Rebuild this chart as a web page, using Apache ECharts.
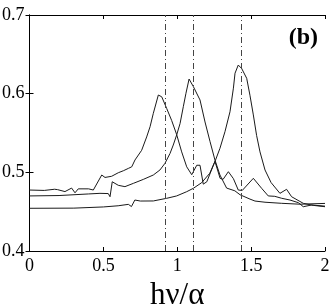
<!DOCTYPE html>
<html>
<head>
<meta charset="utf-8">
<script src="https://cdn.jsdelivr.net/npm/echarts@6/dist/echarts.min.js"></script>
<style>
html,body{margin:0;padding:0;background:#fff;}
#c{width:335px;height:307px;}
</style>
</head>
<body>
<div id="c"></div>
<script>
// Curve A (peak near 0.87)
const curveAx = [0, 0.10, 0.17, 0.19, 0.24, 0.285, 0.308, 0.33, 0.40, 0.432, 0.489, 0.511, 0.556, 0.601, 0.635, 0.669, 0.692, 0.714, 0.759, 0.793, 0.816, 0.838, 0.872, 0.895, 0.929, 0.962, 0.996, 1.03, 1.064, 1.098, 1.132, 1.154, 1.176, 1.20, 1.255, 1.29, 1.31, 1.346, 1.38, 1.413, 1.44, 1.515, 1.571, 1.616, 1.66, 1.707, 1.763, 1.82, 1.853, 1.91, 2.0];
const curveAy = [0.4775, 0.477, 0.4785, 0.478, 0.4755, 0.480, 0.474, 0.479, 0.479, 0.4775, 0.4966, 0.4935, 0.495, 0.4995, 0.502, 0.505, 0.507, 0.5157, 0.528, 0.545, 0.558, 0.575, 0.5983, 0.596, 0.581, 0.566, 0.548, 0.526, 0.507, 0.497, 0.509, 0.509, 0.485, 0.488, 0.514, 0.4924, 0.491, 0.5008, 0.492, 0.4775, 0.477, 0.4924, 0.4797, 0.470, 0.4695, 0.467, 0.4648, 0.4614, 0.4563, 0.4585, 0.457];
// Curve B (peak near 1.08)
const curveBx = [0, 0.2, 0.398, 0.477, 0.533, 0.545, 0.56, 0.601, 0.646, 0.703, 0.77, 0.838, 0.883, 0.917, 0.951, 0.973, 0.996, 1.019, 1.041, 1.059, 1.08, 1.109, 1.154, 1.188, 1.222, 1.255, 1.289, 1.334, 1.39, 1.425, 1.492, 1.526, 1.594, 1.707, 1.83, 2.0];
const curveBy = [0.470, 0.4705, 0.4725, 0.4733, 0.473, 0.469, 0.488, 0.4835, 0.4818, 0.486, 0.491, 0.4966, 0.503, 0.5115, 0.524, 0.5347, 0.5475, 0.562, 0.5834, 0.6005, 0.6186, 0.609, 0.592, 0.564, 0.539, 0.5157, 0.4966, 0.480, 0.4765, 0.4715, 0.466, 0.4635, 0.462, 0.4606, 0.4595, 0.4605];
// Curve C (peak near 1.41)
const curveCx = [0, 0.3, 0.5, 0.6, 0.669, 0.69, 0.713, 0.75, 0.838, 0.929, 0.996, 1.064, 1.109, 1.165, 1.22, 1.255, 1.289, 1.323, 1.357, 1.38, 1.391, 1.413, 1.436, 1.47, 1.492, 1.515, 1.537, 1.56, 1.594, 1.635, 1.695, 1.74, 1.774, 1.853, 1.92, 2.0];
const curveCy = [0.4543, 0.4545, 0.456, 0.4575, 0.4593, 0.4565, 0.4648, 0.4635, 0.4636, 0.467, 0.470, 0.4754, 0.4797, 0.4868, 0.4988, 0.5136, 0.5305, 0.5517, 0.577, 0.607, 0.626, 0.6364, 0.632, 0.6195, 0.598, 0.573, 0.547, 0.526, 0.503, 0.487, 0.4733, 0.4784, 0.469, 0.4606, 0.458, 0.4563];
// Vertical reference lines
const vLines = [0.917, 1.113, 1.427];
const xRange = [0, 2];
const yRange = [0.4, 0.7];
const panelLabel = '(b)';
const xAxisName = 'hν/α';

function pairs(xs, ys){ return xs.map((x,i)=>[x, ys[i]]); }

const font = 'Liberation Serif';
const lineCol = '#1a1a1a';
function curve(xs, ys, withMarks){
  const s = {
    type:'line', data:pairs(xs, ys), showSymbol:false, symbol:'none',
    lineStyle:{color:lineCol, width:1}, silent:true, z:3
  };
  if(withMarks){
    s.markLine = {
      silent:true, symbol:['none','none'], label:{show:false},
      lineStyle:{color:'#444', width:1, type:[6,3,1,3]},
      data: vLines.map(v=>({xAxis:v}))
    };
  }
  return s;
}

const chart = echarts.init(document.getElementById('c'), null, {renderer:'canvas'});
chart.setOption({
  animation:false,
  backgroundColor:'#fff',
  title:{text:panelLabel, right:12, top:21, textStyle:{fontFamily:font, fontWeight:'bold', fontSize:24, color:'#000'}},
  grid:{left:29.5, right:10, top:15, bottom:56, containLabel:false, outerBoundsMode:'none'},
  xAxis:[
    {type:'value', min:xRange[0], max:xRange[1], interval:0.5, position:'bottom',
     name:xAxisName, nameLocation:'middle', nameGap:22,
     nameTextStyle:{fontFamily:font, fontSize:31, color:'#000'},
     axisLine:{lineStyle:{color:'#000', width:1}},
     axisTick:{inside:true, length:4, lineStyle:{color:'#000'}},
     axisLabel:{fontFamily:font, fontSize:18, color:'#000', margin:6},
     splitLine:{show:false}},
    {type:'value', min:xRange[0], max:xRange[1], interval:0.5, position:'top',
     axisLine:{lineStyle:{color:'#000', width:1}},
     axisTick:{inside:true, length:4, lineStyle:{color:'#000'}},
     axisLabel:{show:false}, splitLine:{show:false}}
  ],
  yAxis:[
    {type:'value', min:yRange[0], max:yRange[1], interval:0.1, position:'left',
     axisLine:{show:true, lineStyle:{color:'#000', width:1}},
     axisTick:{show:true, inside:true, length:4, lineStyle:{color:'#000'}},
     axisLabel:{fontFamily:font, fontSize:18, color:'#000', margin:5,
       formatter:v=>v.toFixed(1)},
     splitLine:{show:false}},
    {type:'value', min:yRange[0], max:yRange[1], interval:0.1, position:'right',
     axisLine:{show:true, lineStyle:{color:'#000', width:1}},
     axisTick:{show:true, inside:true, length:4, lineStyle:{color:'#000'}},
     axisLabel:{show:false}, splitLine:{show:false}}
  ],
  series:[
    curve(curveAx, curveAy, true),
    curve(curveBx, curveBy, false),
    curve(curveCx, curveCy, false)
  ]
});
</script>
</body>
</html>
